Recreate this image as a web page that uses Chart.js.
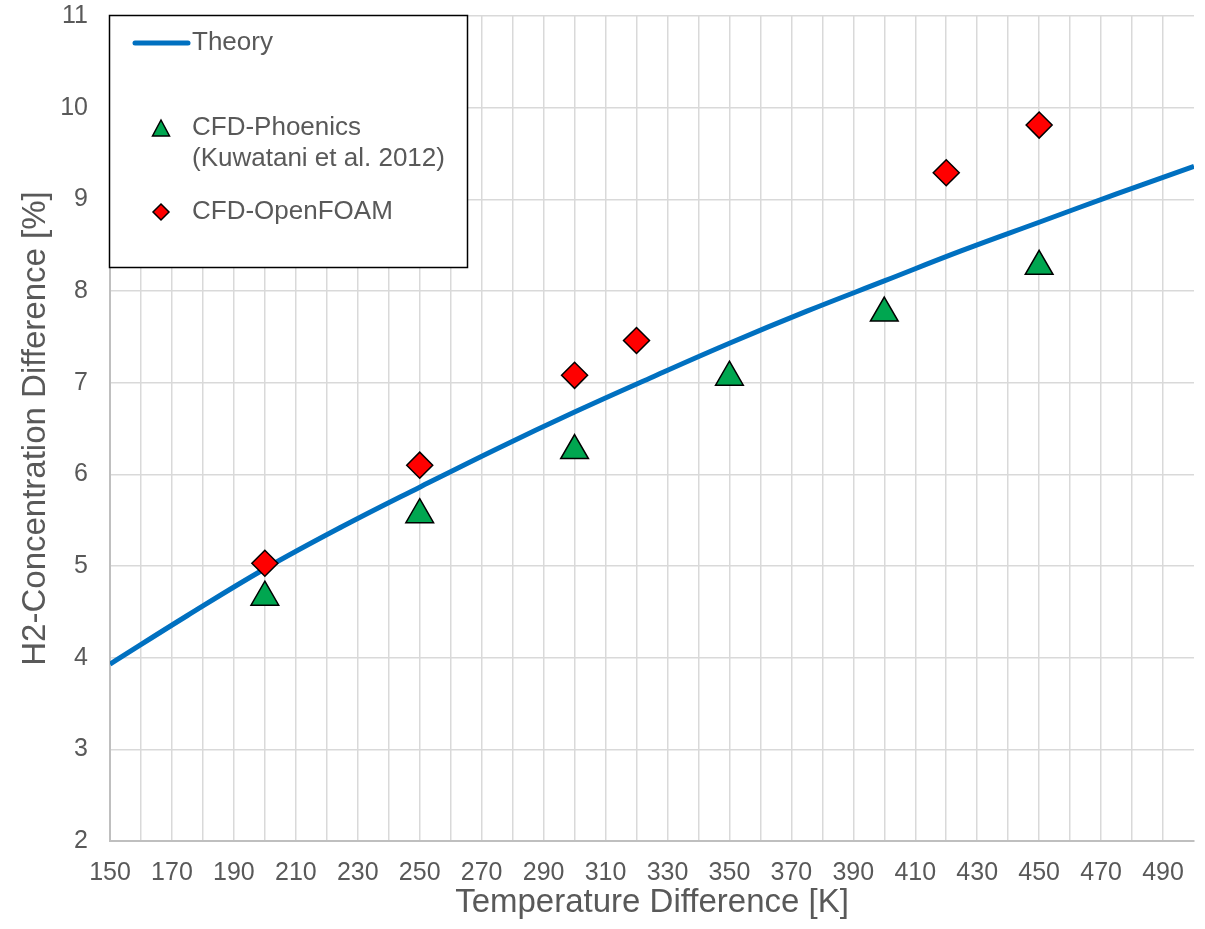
<!DOCTYPE html>
<html>
<head>
<meta charset="utf-8">
<script src="https://cdn.jsdelivr.net/npm/chart.js@4"></script>
<style>
  html, body { margin: 0; padding: 0; background: #fff; }
  #wrap { width: 1205px; height: 929px; }
</style>
</head>
<body>
<div id="wrap"><canvas id="chart"></canvas></div>
<script>
// theory curve
const theoryX = [150, 175, 200, 225, 250, 275, 300, 325, 350, 375, 400, 425, 450, 475, 500];
const theoryY = [3.93, 4.46, 4.97, 5.43, 5.86, 6.28, 6.68, 7.06, 7.43, 7.78, 8.11, 8.44, 8.75, 9.06, 9.36];

// CFD-Phoenics (Kuwatani et al. 2012)
const phoenicsX = [200, 250, 300, 350, 400, 450];
const phoenicsY = [4.66, 5.56, 6.26, 7.06, 7.76, 8.27];

// CFD-OpenFOAM
const foamX = [200, 250, 300, 320, 420, 450];
const foamY = [5.03, 6.10, 7.08, 7.46, 9.29, 9.81];

const FONT = "'Liberation Sans', Arial, sans-serif";
const TEXT = '#595959';
const GRID = '#d9d9d9';

const toPts = (xs, ys) => xs.map((x, i) => ({ x: x, y: ys[i] }));

// legend drawn by hand inside the plot, like the original
const legendBox = {
    id: 'legendBox',
    afterDatasetsDraw(chart) {
        const ctx = chart.ctx;
        ctx.save();
        ctx.fillStyle = '#fff';
        ctx.fillRect(109, 15, 359, 253);
        ctx.strokeStyle = '#000';
        ctx.lineWidth = 1.5;
        ctx.strokeRect(109.5, 15.5, 358, 252);

        ctx.font = '26px ' + FONT;
        ctx.fillStyle = TEXT;
        ctx.textBaseline = 'middle';
        ctx.textAlign = 'left';

        // Theory
        ctx.strokeStyle = '#0070c0';
        ctx.lineWidth = 5;
        ctx.lineCap = 'round';
        ctx.beginPath();
        ctx.moveTo(135, 43);
        ctx.lineTo(188, 43);
        ctx.stroke();
        ctx.fillText('Theory', 192, 43);

        // triangle
        ctx.lineWidth = 1.5;
        ctx.strokeStyle = '#000';
        ctx.fillStyle = '#00a650';
        ctx.beginPath();
        ctx.moveTo(161, 120);
        ctx.lineTo(169.5, 136);
        ctx.lineTo(152.5, 136);
        ctx.closePath();
        ctx.fill();
        ctx.stroke();
        ctx.fillStyle = TEXT;
        ctx.fillText('CFD-Phoenics', 192, 128);
        ctx.fillText('(Kuwatani et al. 2012)', 192, 159);

        // diamond
        ctx.fillStyle = '#ff0000';
        ctx.beginPath();
        ctx.moveTo(161, 204);
        ctx.lineTo(169, 212);
        ctx.lineTo(161, 220);
        ctx.lineTo(153, 212);
        ctx.closePath();
        ctx.fill();
        ctx.stroke();
        ctx.fillStyle = TEXT;
        ctx.fillText('CFD-OpenFOAM', 192, 212);
        ctx.restore();
    }
};

new Chart(document.getElementById('chart').getContext('2d'), {
    type: 'scatter',
    data: {
        datasets: [
            {
                label: 'Theory',
                data: toPts(theoryX, theoryY),
                showLine: true,
                borderColor: '#0070c0',
                borderWidth: 5,
                tension: 0.4,
                pointRadius: 0,
                fill: false,
                order: 3
            },
            {
                label: 'CFD-Phoenics (Kuwatani et al. 2012)',
                data: toPts(phoenicsX, phoenicsY),
                pointStyle: 'triangle',
                pointRadius: 16,
                backgroundColor: '#00a650',
                borderColor: '#000',
                borderWidth: 1.5,
                order: 2
            },
            {
                label: 'CFD-OpenFOAM',
                data: toPts(foamX, foamY),
                pointStyle: 'rectRot',
                pointRadius: 13,
                backgroundColor: '#ff0000',
                borderColor: '#000',
                borderWidth: 1.5,
                order: 1
            }
        ]
    },
    options: {
        responsive: true,
        maintainAspectRatio: false,
        animation: false,
        layout: { autoPadding: false, padding: { top: 16, right: 11, left: 0, bottom: 0 } },
        plugins: {
            legend: { display: false },
            tooltip: { enabled: false }
        },
        scales: {
            x: {
                type: 'linear',
                min: 150,
                max: 500,
                afterFit: (s) => { s.height = 88; s.paddingLeft = 0; s.paddingRight = 0; },
                ticks: {
                    stepSize: 10,
                    autoSkip: false,
                    maxRotation: 0,
                    padding: 17,
                    color: TEXT,
                    font: { family: FONT, size: 25 },
                    callback: (v) => ((v - 150) % 20 === 0 && v < 500) ? String(v) : ''
                },
                grid: {
                    color: (c) => (c.tick && c.tick.value === 500) ? 'rgba(0,0,0,0)' : GRID,
                    lineWidth: 1.5,
                    drawTicks: false
                },
                border: { color: '#bfbfbf', width: 2 },
                title: {
                    display: true,
                    text: 'Temperature Difference [K]',
                    color: TEXT,
                    font: { family: FONT, size: 33 },
                    padding: { top: 0, bottom: 6 }
                }
            },
            y: {
                min: 2,
                max: 11,
                afterFit: (s) => { s.width = 110; s.paddingTop = 0; s.paddingBottom = 0; },
                ticks: {
                    stepSize: 1,
                    padding: 22,
                    color: TEXT,
                    font: { family: FONT, size: 25 }
                },
                grid: { color: GRID, lineWidth: 1.5, drawTicks: false },
                border: { color: '#bfbfbf', width: 2 },
                title: {
                    display: true,
                    text: 'H2-Concentration Difference [%]',
                    color: TEXT,
                    font: { family: FONT, size: 33 },
                    padding: { top: 16, bottom: 0 }
                }
            }
        }
    },
    plugins: [legendBox]
});
</script>
</body>
</html>
